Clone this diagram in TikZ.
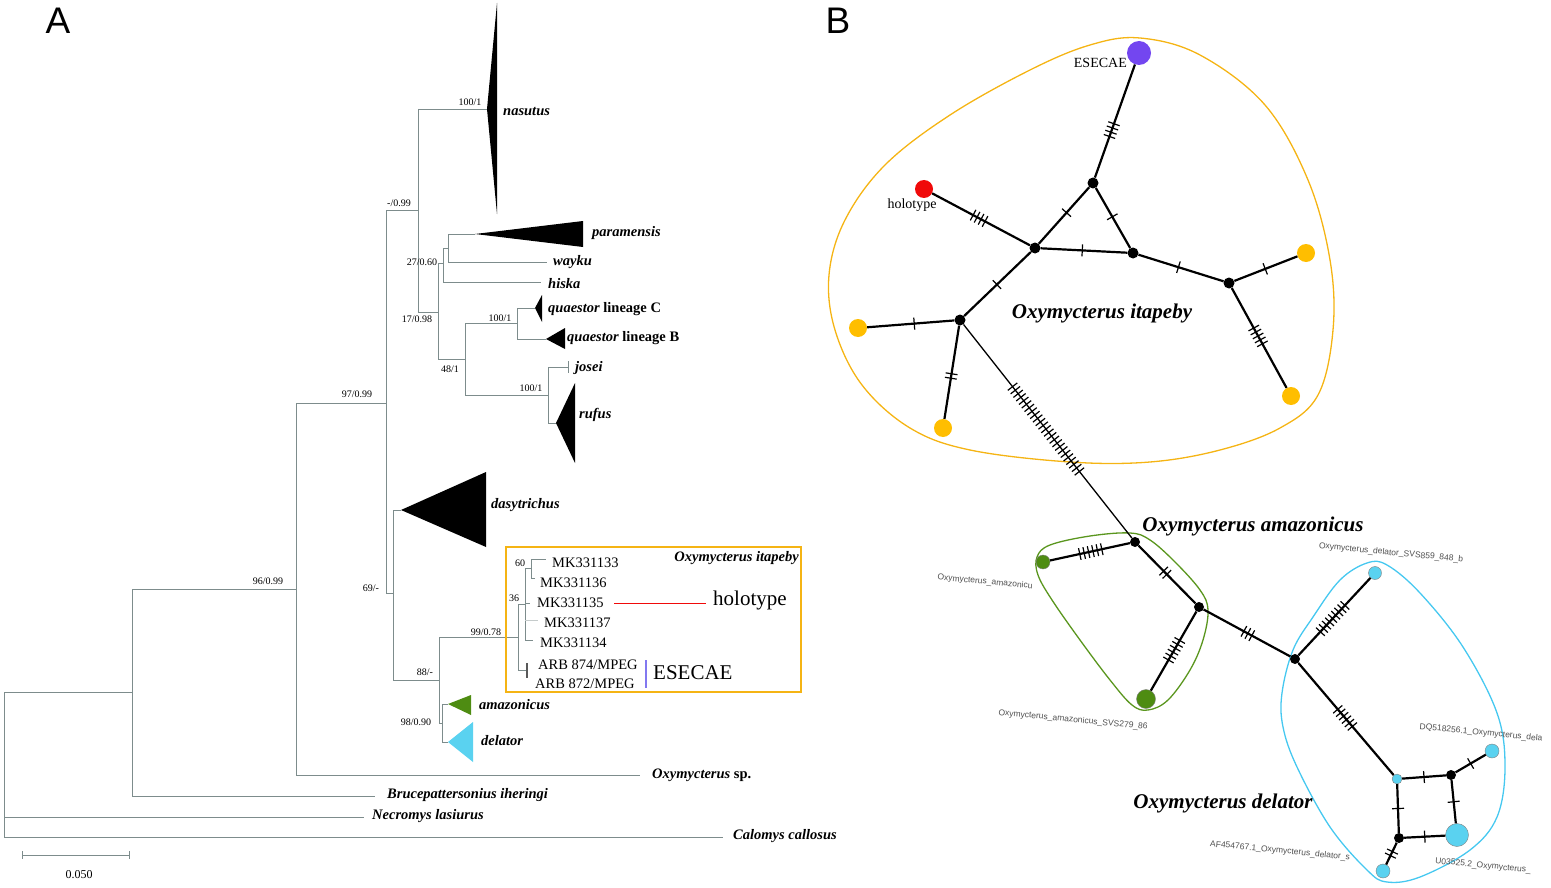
\documentclass[tikz,border=0pt]{standalone}
\usepackage{fontspec}
\setmainfont{Liberation Serif}
\newfontfamily\sansf{Liberation Sans}
\usetikzlibrary{decorations.markings}
\definecolor{treec}{RGB}{125,140,140}
\definecolor{boxor}{RGB}{245,180,20}
\definecolor{orh}{RGB}{255,190,0}
\definecolor{grn}{RGB}{78,140,18}
\definecolor{grnl}{RGB}{90,150,30}
\definecolor{lblue}{RGB}{90,210,240}
\definecolor{lbluel}{RGB}{70,200,240}
\definecolor{purp}{RGB}{115,70,240}
\definecolor{purbar}{RGB}{130,120,240}
\definecolor{holr}{RGB}{240,10,10}
\definecolor{labg}{RGB}{80,80,80}
\begin{document}
\begin{tikzpicture}[x=1pt,y=-1pt,
  tree/.style={draw=treec, line width=0.8pt},
  sup/.style={font=\fontsize{10}{12}\selectfont, inner sep=0},
  tax/.style={font=\fontsize{14.5}{17}\selectfont\bfseries\itshape, anchor=west, inner sep=0},
  mk/.style={font=\fontsize{14.5}{17}\selectfont, anchor=west, inner sep=0},
  big/.style={font=\fontsize{21}{24}\selectfont, inner sep=0},
  spc/.style={font=\fontsize{21}{24}\selectfont\bfseries\itshape, inner sep=0},
  panel/.style={font=\sansf\fontsize{37}{40}\selectfont, inner sep=0},
  hl/.style={font=\sansf\fontsize{8.5}{10}\selectfont, text=labg, inner sep=0, rotate=-5.5},
  netlab/.style={font=\fontsize{14}{16}\selectfont, inner sep=0},
  edge/.style={line width=2.2pt},
  hap/.style={circle, inner sep=0},
  med/.style={circle, fill=black, inner sep=0, minimum size=11pt},
  smed/.style={circle, fill=black, inner sep=0, minimum size=10pt},
  mut/.style n args={2}{postaction={decorate, decoration={markings, mark=at position #2 with {\foreach \k in {1,...,#1}{\draw[line width=1.2pt] ({(\k-(#1+1)/2)*4.5pt},-6pt) -- ++(0,12pt);}}}}}
]
\useasboundingbox (0,0) rectangle (1551,888);

% ---------------- Panel A ----------------
\node[panel] (pa) at (58,21) {A};

% tree branches
\draw[tree] (4,692) -- (4,837) -- (723,837);
\draw[tree] (4,692) -- (132,692);
\draw[tree] (4,817) -- (364,817);
\draw[tree] (132,589) -- (132,796) -- (375,796);
\draw[tree] (132,589) -- (296,589);
\draw[tree] (296,403) -- (296,775) -- (640,775);
\draw[tree] (296,403) -- (386,403);
\draw[tree] (386,210) -- (386,593) -- (393,593);
\draw[tree] (386,210) -- (418,210);
\draw[tree] (418,109) -- (418,312) -- (438,312);
\draw[tree] (418,109) -- (487,109);
\fill (487,109) -- (497,3) -- (497,214) -- cycle;
\draw[tree] (438,263) -- (438,359) -- (465,359);
\draw[tree] (438,263) -- (443,263);
\draw[tree] (443,248) -- (443,282) -- (541,282);
\draw[tree] (443,248) -- (448,248);
\draw[tree] (448,234) -- (448,262) -- (547,262);
\draw[tree] (448,234) -- (475,234);
\fill (475,234) -- (583,221) -- (583,247) -- cycle;
\draw[tree] (465,323) -- (465,395) -- (548,395);
\draw[tree] (465,323) -- (517,323);
\draw[tree] (517,308) -- (517,339) -- (546,339);
\draw[tree] (517,308) -- (535,308);
\fill (535,308) -- (542,295) -- (542,322) -- cycle;
\fill (546,339) -- (565,328) -- (565,349) -- cycle;
\draw[tree] (548,367) -- (548,423) -- (556,423);
\draw[tree] (548,367) -- (568,367);
\draw[tree] (568,361) -- (568,373);
\fill (556,423) -- (575,383) -- (575,463) -- cycle;
\draw[tree] (393,510) -- (393,680) -- (439,680);
\draw[tree] (393,510) -- (401,510);
\fill (401,510) -- (486,472) -- (486,547) -- cycle;
\draw[tree] (439,637) -- (439,723) -- (442,723);
\draw[tree] (439,637) -- (518,637);
\draw[tree] (442,704) -- (442,742) -- (448,742);
\draw[tree] (442,704) -- (448,704);
\fill[grn] (448,704) -- (471,695) -- (471,715) -- cycle;
\fill[lblue] (448,742) -- (473,722) -- (473,762) -- cycle;

% itapeby box
\draw[boxor, line width=1.2pt] (506,547) rectangle (801,692);
\draw[tree] (518,604) -- (518,670) -- (526,670);
\draw[tree] (518,604) -- (525,604);
\draw[tree] (525,568) -- (525,640) -- (533,640);
\draw[tree] (525,568) -- (531,568);
\draw[tree] (525,603) -- (530,603);
\draw[draw=treec!45, line width=0.8pt] (525,620) -- (538,620);
\draw[tree] (531,559) -- (531,578) -- (535,578);
\draw[tree] (531,559) -- (546,559);
\draw[draw=black!65, line width=1.6pt] (527,663) -- (527,678);
\draw[holr, line width=0.8pt] (614,603) -- (706,603);
\draw[purbar, line width=1.6pt] (646,660) -- (646,688);

% support values
\node[sup] at (470,102) {100/1};
\node[sup] at (399,203) {-/0.99};
\node[sup] at (422,262) {27/0.60};
\node[sup] at (417,319) {17/0.98};
\node[sup] at (500,318) {100/1};
\node[sup] at (450,369) {48/1};
\node[sup] at (531,388) {100/1};
\node[sup] at (357,394) {97/0.99};
\node[sup] at (268,581) {96/0.99};
\node[sup] at (371,588) {69/-};
\node[sup] at (425,672) {88/-};
\node[sup] at (486,632) {99/0.78};
\node[sup] at (416,722) {98/0.90};
\node[sup] at (520,563) {60};
\node[sup] at (514,598) {36};

% taxon labels
\node[tax] at (503,112) {nasutus};
\node[tax] at (592,233) {paramensis};
\node[tax] at (553,262) {wayku};
\node[tax] at (548,284) {hiska};
\node[tax] at (548,309) {quaestor {\upshape lineage C}};
\node[tax] at (567,338) {quaestor {\upshape lineage B}};
\node[tax] at (575,368) {josei};
\node[tax] at (579,415) {rufus};
\node[tax] at (491,505) {dasytrichus};
\node[tax] at (479,705) {amazonicus};
\node[tax] at (481,741) {delator};
\node[tax] at (652,775) {Oxymycterus {\upshape sp.}};
\node[tax] at (387,795) {Brucepattersonius iheringi};
\node[tax] at (372,816) {Necromys lasiurus};
\node[tax] at (733,836) {Calomys callosus};
\node[tax, anchor=east] at (799,558) {Oxymycterus itapeby};
\node[mk] at (552,563) {MK331133};
\node[mk] at (540,583) {MK331136};
\node[mk] at (537,603) {MK331135};
\node[mk] at (544,623) {MK331137};
\node[mk] at (540,643) {MK331134};
\node[mk] at (538,665) {ARB 874/MPEG};
\node[mk] at (535,684) {ARB 872/MPEG};
\node[big, anchor=west] at (713,600) {holotype};
\node[big, anchor=west] at (653,673) {ESECAE};

% scale bar
\draw[draw=treec, line width=0.8pt] (22,855) -- (129,855);
\draw[draw=treec, line width=0.8pt] (22,851) -- (22,859);
\draw[draw=treec, line width=0.8pt] (129,851) -- (129,859);
\node[font=\fontsize{12}{14}\selectfont, inner sep=0] at (79,875) {0.050};

% ---------------- Panel B ----------------
\node[panel] (pb) at (838,21) {B};

% group outlines
\draw[boxor, line width=1.3pt] plot[smooth cycle, tension=0.6] coordinates {
 (1140,38) (1200,55) (1265,105) (1308,180) (1330,260) (1333,330) (1318,395)
 (1280,428) (1220,450) (1150,462) (1070,462) (970,450) (910,428) (862,385)
 (835,330) (829,275) (845,220) (885,165) (950,115) (1030,70) (1090,45)};
\draw[grnl, line width=1.3pt] plot[smooth cycle, tension=0.6] coordinates {
 (1037,557) (1050,545) (1090,536) (1130,533) (1150,540) (1175,562) (1200,590)
 (1208,610) (1203,640) (1190,670) (1168,700) (1148,710) (1132,705) (1110,680)
 (1080,640) (1052,600) (1038,575)};
\draw[lbluel, line width=1.3pt] plot[smooth cycle, tension=0.6] coordinates {
 (1340,580) (1367,563) (1387,565) (1420,593) (1463,647) (1497,713) (1505,767)
 (1497,817) (1470,850) (1420,877) (1387,882) (1367,870) (1330,827) (1297,767)
 (1283,727) (1282,693) (1293,650) (1313,617)};

% haplotypes and median vectors
\node[hap, fill=purp, minimum size=24pt] (es) at (1139,53) {};
\node[hap, fill=holr, minimum size=18pt] (ho) at (924,189) {};
\node[med] (m1) at (1093,183) {};
\node[med] (m2) at (1035,248) {};
\node[med] (m3) at (1133,253) {};
\node[med] (m5) at (1229,283) {};
\node[med] (m6) at (960,320) {};
\node[hap, fill=orh, minimum size=18pt] (o1) at (1306,253) {};
\node[hap, fill=orh, minimum size=18pt] (o2) at (1291,396) {};
\node[hap, fill=orh, minimum size=18pt] (o3) at (858,328) {};
\node[hap, fill=orh, minimum size=18pt] (o4) at (943,428) {};
\node[smed] (a1) at (1135,542) {};
\node[smed] (a2) at (1199,607) {};
\node[hap, fill=grn, draw=gray, line width=0.4pt, minimum size=14pt] (g1) at (1043,562) {};
\node[hap, fill=grn, draw=gray, line width=0.4pt, minimum size=19pt] (g2) at (1146,699) {};
\node[smed] (d1) at (1295,659) {};
\node[hap, fill=lblue, draw=gray, line width=0.4pt, minimum size=13pt] (b1) at (1375,573) {};
\node[hap, fill=lblue, draw=gray, line width=0.4pt, minimum size=10pt] (d2) at (1397,779) {};
\node[smed] (d3) at (1451,775) {};
\node[smed] (d4) at (1399,838) {};
\node[hap, fill=lblue, draw=gray, line width=0.4pt, minimum size=14pt] (b2) at (1492,751) {};
\node[hap, fill=lblue, draw=gray, line width=0.4pt, minimum size=23pt] (b3) at (1457,835) {};
\node[hap, fill=lblue, draw=gray, line width=0.4pt, minimum size=14pt] (b4) at (1383,871) {};

% network edges with mutation ticks
\draw[edge, mut={4}{0.42}] (m1) -- (es);
\draw[edge, mut={4}{0.48}] (ho) -- (m2);
\draw[edge, mut={1}{0.55}] (m2) -- (m1);
\draw[edge, mut={1}{0.48}] (m1) -- (m3);
\draw[edge, mut={1}{0.48}] (m2) -- (m3);
\draw[edge, mut={1}{0.47}] (m3) -- (m5);
\draw[edge, mut={1}{0.49}] (m5) -- (o1);
\draw[edge, mut={5}{0.48}] (m5) -- (o2);
\draw[edge, mut={1}{0.51}] (m2) -- (m6);
\draw[edge, mut={1}{0.46}] (m6) -- (o3);
\draw[edge, mut={2}{0.54}] (m6) -- (o4);
\draw[line width=1.3pt, mut={25}{0.49}] (m6) -- (a1);
\draw[edge, mut={6}{0.49}] (a1) -- (g1);
\draw[edge, mut={2}{0.47}] (a1) -- (a2);
\draw[edge, mut={6}{0.49}] (a2) -- (g2);
\draw[edge, mut={3}{0.51}] (a2) -- (d1);
\draw[edge, mut={9}{0.475}] (d1) -- (b1);
\draw[edge, mut={6}{0.49}] (d1) -- (d2);
\draw[edge, mut={1}{0.5}] (d2) -- (d3);
\draw[edge, mut={1}{0.5}] (d3) -- (b2);
\draw[edge, mut={1}{0.5}] (d3) -- (b3);
\draw[edge, mut={1}{0.5}] (d2) -- (d4);
\draw[edge, mut={1}{0.5}] (d4) -- (b3);
\draw[edge, mut={2}{0.5}] (d4) -- (b4);

% network labels
\node[netlab, anchor=east] at (1127,63) {ESECAE};
\node[netlab] at (912,205) {holotype};
\node[spc] at (1102,313) {Oxymycterus itapeby};
\node[spc] at (1253,526) {Oxymycterus amazonicus};
\node[spc] at (1223,803) {Oxymycterus delator};
\node[hl] at (985,582) {Oxymycterus\_amazonicu};
\node[hl] at (1073,720) {Oxymycterus\_amazonicus\_SVS279\_86};
\node[hl] at (1391,553) {Oxymycterus\_delator\_SVS859\_848\_b};
\node[hl] at (1481,733) {DQ518256.1\_Oxymycterus\_dela};
\node[hl] at (1280,851) {AF454767.1\_Oxymycterus\_delator\_s};
\node[hl] at (1483,866) {U03525.2\_Oxymycterus\_};
\end{tikzpicture}
\end{document}
